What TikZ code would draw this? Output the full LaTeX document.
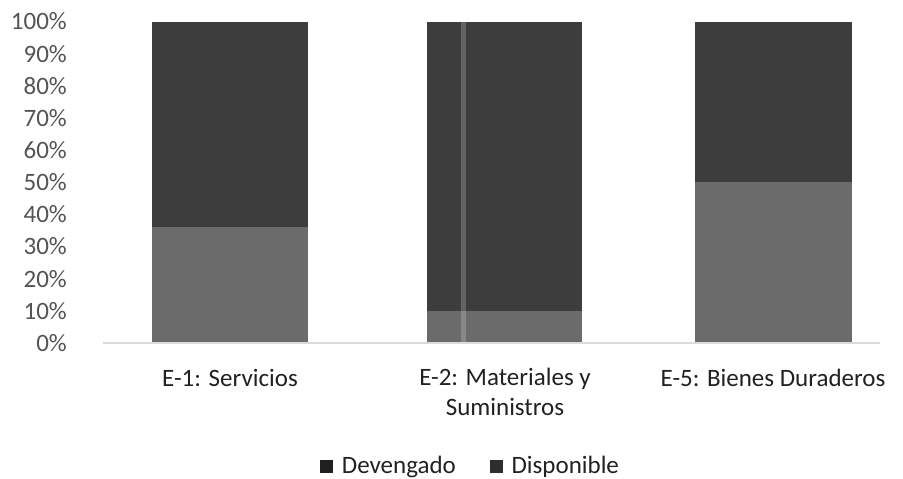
\documentclass[tikz,border=0pt]{standalone}
\usepackage{fontspec}
\setmainfont{Carlito}
\usetikzlibrary{positioning}
\definecolor{mdark}{gray}{0.24}
\definecolor{mlight}{gray}{0.42}
\definecolor{maxis}{gray}{0.86}
\definecolor{mtick}{gray}{0.33}
\definecolor{mtext}{gray}{0.13}
\tikzset{ticklabel/.style = {anchor=east, inner sep=0, text=mtick,
                             font=\fontsize{25}{30}\selectfont}}
\tikzset{catlabel/.style = {anchor=north, inner sep=0, text=mtext, align=center,
                            font=\fontsize{25}{30}\selectfont}}
\tikzset{legendkey/.style = {minimum size=13pt, inner sep=0}}
\tikzset{legendtext/.style = {inner sep=0, text=mtext, text height=19pt,
                              text depth=6pt, font=\fontsize{25}{30}\selectfont}}

\begin{document}
\begin{tikzpicture}[x=1pt, y=-1pt]
    \useasboundingbox (0, 0) rectangle (903, 479);

    \foreach \p in {0, 10, ..., 100}
        \node [ticklabel] (t\p) at (67, 343 - 3.215*\p) {\p\%};

    \foreach \xl/\xr/\p in {152/308/36, 427/582/10, 695/852/50} {
        \fill [mdark] (\xl, 21.5) rectangle (\xr, 343 - 3.215*\p);
        \fill [mlight] (\xl, 343 - 3.215*\p) rectangle (\xr, 343);
    }
    \fill [white, opacity=0.2] (461, 21.5) rectangle (466, 343);

    \draw [maxis, line width=1.5pt] (103, 343) -- (880, 343);

    \node [catlabel, text height=19pt] (c1) at (230, 367) {E-1: Servicios};
    \node [catlabel] (c2) at (505, 367.5) {E-2: Materiales y\\Suministros};
    \node [catlabel, text height=19pt] (c5) at (773, 367) {E-5: Bienes Duraderos};

    \node [legendkey, fill=black!88] (kdev) at (326, 466.5) {};
    \node [legendtext, right=9pt of kdev] (ldev) {Devengado};
    \node [legendkey, fill=black!82, right=34pt of ldev] (kdis) {};
    \node [legendtext, right=8pt of kdis] (ldis) {Disponible};
  \end{tikzpicture}
\end{document}
